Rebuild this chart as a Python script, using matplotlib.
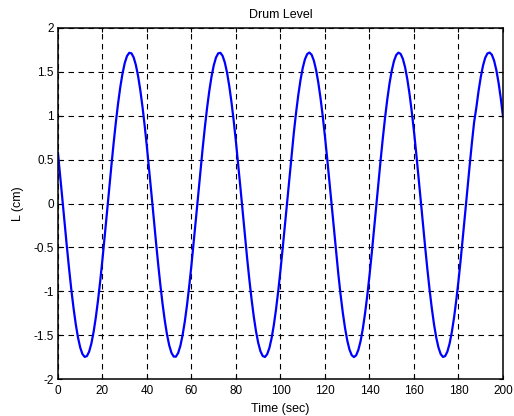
import numpy as np
import matplotlib
matplotlib.use('Agg')
import matplotlib.pyplot as plt

# Drum level, one value per second from 0 to 200 s
time_sec = list(range(0, 201))
level_cm = [
    0.573, 0.312, 0.043, -0.227, -0.493, -0.746, -0.982, -1.193, -1.377, -1.528,
    -1.642, -1.716, -1.748, -1.739, -1.688, -1.596, -1.465, -1.299, -1.102, -0.879,
    -0.635, -0.375, -0.107, 0.164, 0.430, 0.685, 0.923, 1.139, 1.326, 1.481,
    1.600, 1.679, 1.717, 1.712, 1.666, 1.579, 1.453, 1.292, 1.098, 0.878,
    0.636, 0.378, 0.111, -0.160, -0.427, -0.684, -0.925, -1.143, -1.334, -1.494,
    -1.617, -1.701, -1.744, -1.745, -1.704, -1.622, -1.501, -1.344, -1.155, -0.937,
    -0.697, -0.441, -0.174, 0.096, 0.364, 0.623, 0.866, 1.088, 1.282, 1.446,
    1.573, 1.663, 1.711, 1.717, 1.682, 1.605, 1.489, 1.336, 1.150, 0.936,
    0.698, 0.444, 0.178, -0.092, -0.361, -0.621, -0.866, -1.091, -1.290, -1.457,
    -1.589, -1.684, -1.737, -1.749, -1.718, -1.647, -1.535, -1.386, -1.205, -0.994,
    -0.759, -0.507, -0.242, 0.028, 0.298, 0.559, 0.807, 1.034, 1.237, 1.408,
    1.545, 1.644, 1.703, 1.720, 1.695, 1.628, 1.521, 1.377, 1.199, 0.992,
    0.760, 0.509, 0.245, -0.024, -0.294, -0.557, -0.806, -1.037, -1.243, -1.418,
    -1.560, -1.664, -1.728, -1.750, -1.730, -1.668, -1.567, -1.427, -1.253, -1.049,
    -0.820, -0.571, -0.309, -0.039, 0.231, 0.495, 0.746, 0.979, 1.188, 1.368,
    1.514, 1.623, 1.692, 1.719, 1.705, 1.648, 1.552, 1.416, 1.247, 1.046,
    0.820, 0.573, 0.312, 0.043, -0.227, -0.492, -0.746, -0.981, -1.193, -1.377,
    -1.528, -1.641, -1.716, -1.748, -1.739, -1.688, -1.596, -1.465, -1.300, -1.102,
    -0.879, -0.635, -0.375, -0.107, 0.163, 0.429, 0.685, 0.923, 1.090, 1.280,
    1.440, 1.570, 1.660, 1.710, 1.720, 1.695, 1.628, 1.521, 1.377, 1.199,
    0.991,
]

x_ticks = list(range(0, 201, 20))
y_ticks = [-2, -1.5, -1, -0.5, 0, 0.5, 1, 1.5, 2]
y_labels = ['-2', '-1.5', '-1', '-0.5', '0', '0.5', '1', '1.5', '2']

plt.rcParams['font.family'] = ['Liberation Sans', 'DejaVu Sans']

fig = plt.figure(figsize=(5.14, 4.16), dpi=100)
ax = fig.add_axes([0.1128, 0.0889, 0.8658, 0.8438])

ax.plot(time_sec, level_cm, color='#0000ff', linewidth=1.6)

ax.set_xlim(0, 200)
ax.set_ylim(-2, 2)
ax.set_xticks(x_ticks)
ax.set_yticks(y_ticks)
ax.set_yticklabels(y_labels)
ax.tick_params(direction='in', length=3, labelsize=8.5, top=True, right=True)
ax.tick_params(axis='x', pad=4.5)
ax.tick_params(axis='y', pad=3)

ax.grid(True, color='black', linestyle=(0, (5, 4)), linewidth=0.8)
for s in ax.spines.values():
    s.set_linewidth(1.1)

ax.set_title('Drum Level', fontsize=9, pad=7)
ax.set_xlabel('Time (sec)', fontsize=9, labelpad=4)
ax.set_ylabel('L (cm)', fontsize=9, labelpad=7)

fig.savefig('out.png', dpi=100)
